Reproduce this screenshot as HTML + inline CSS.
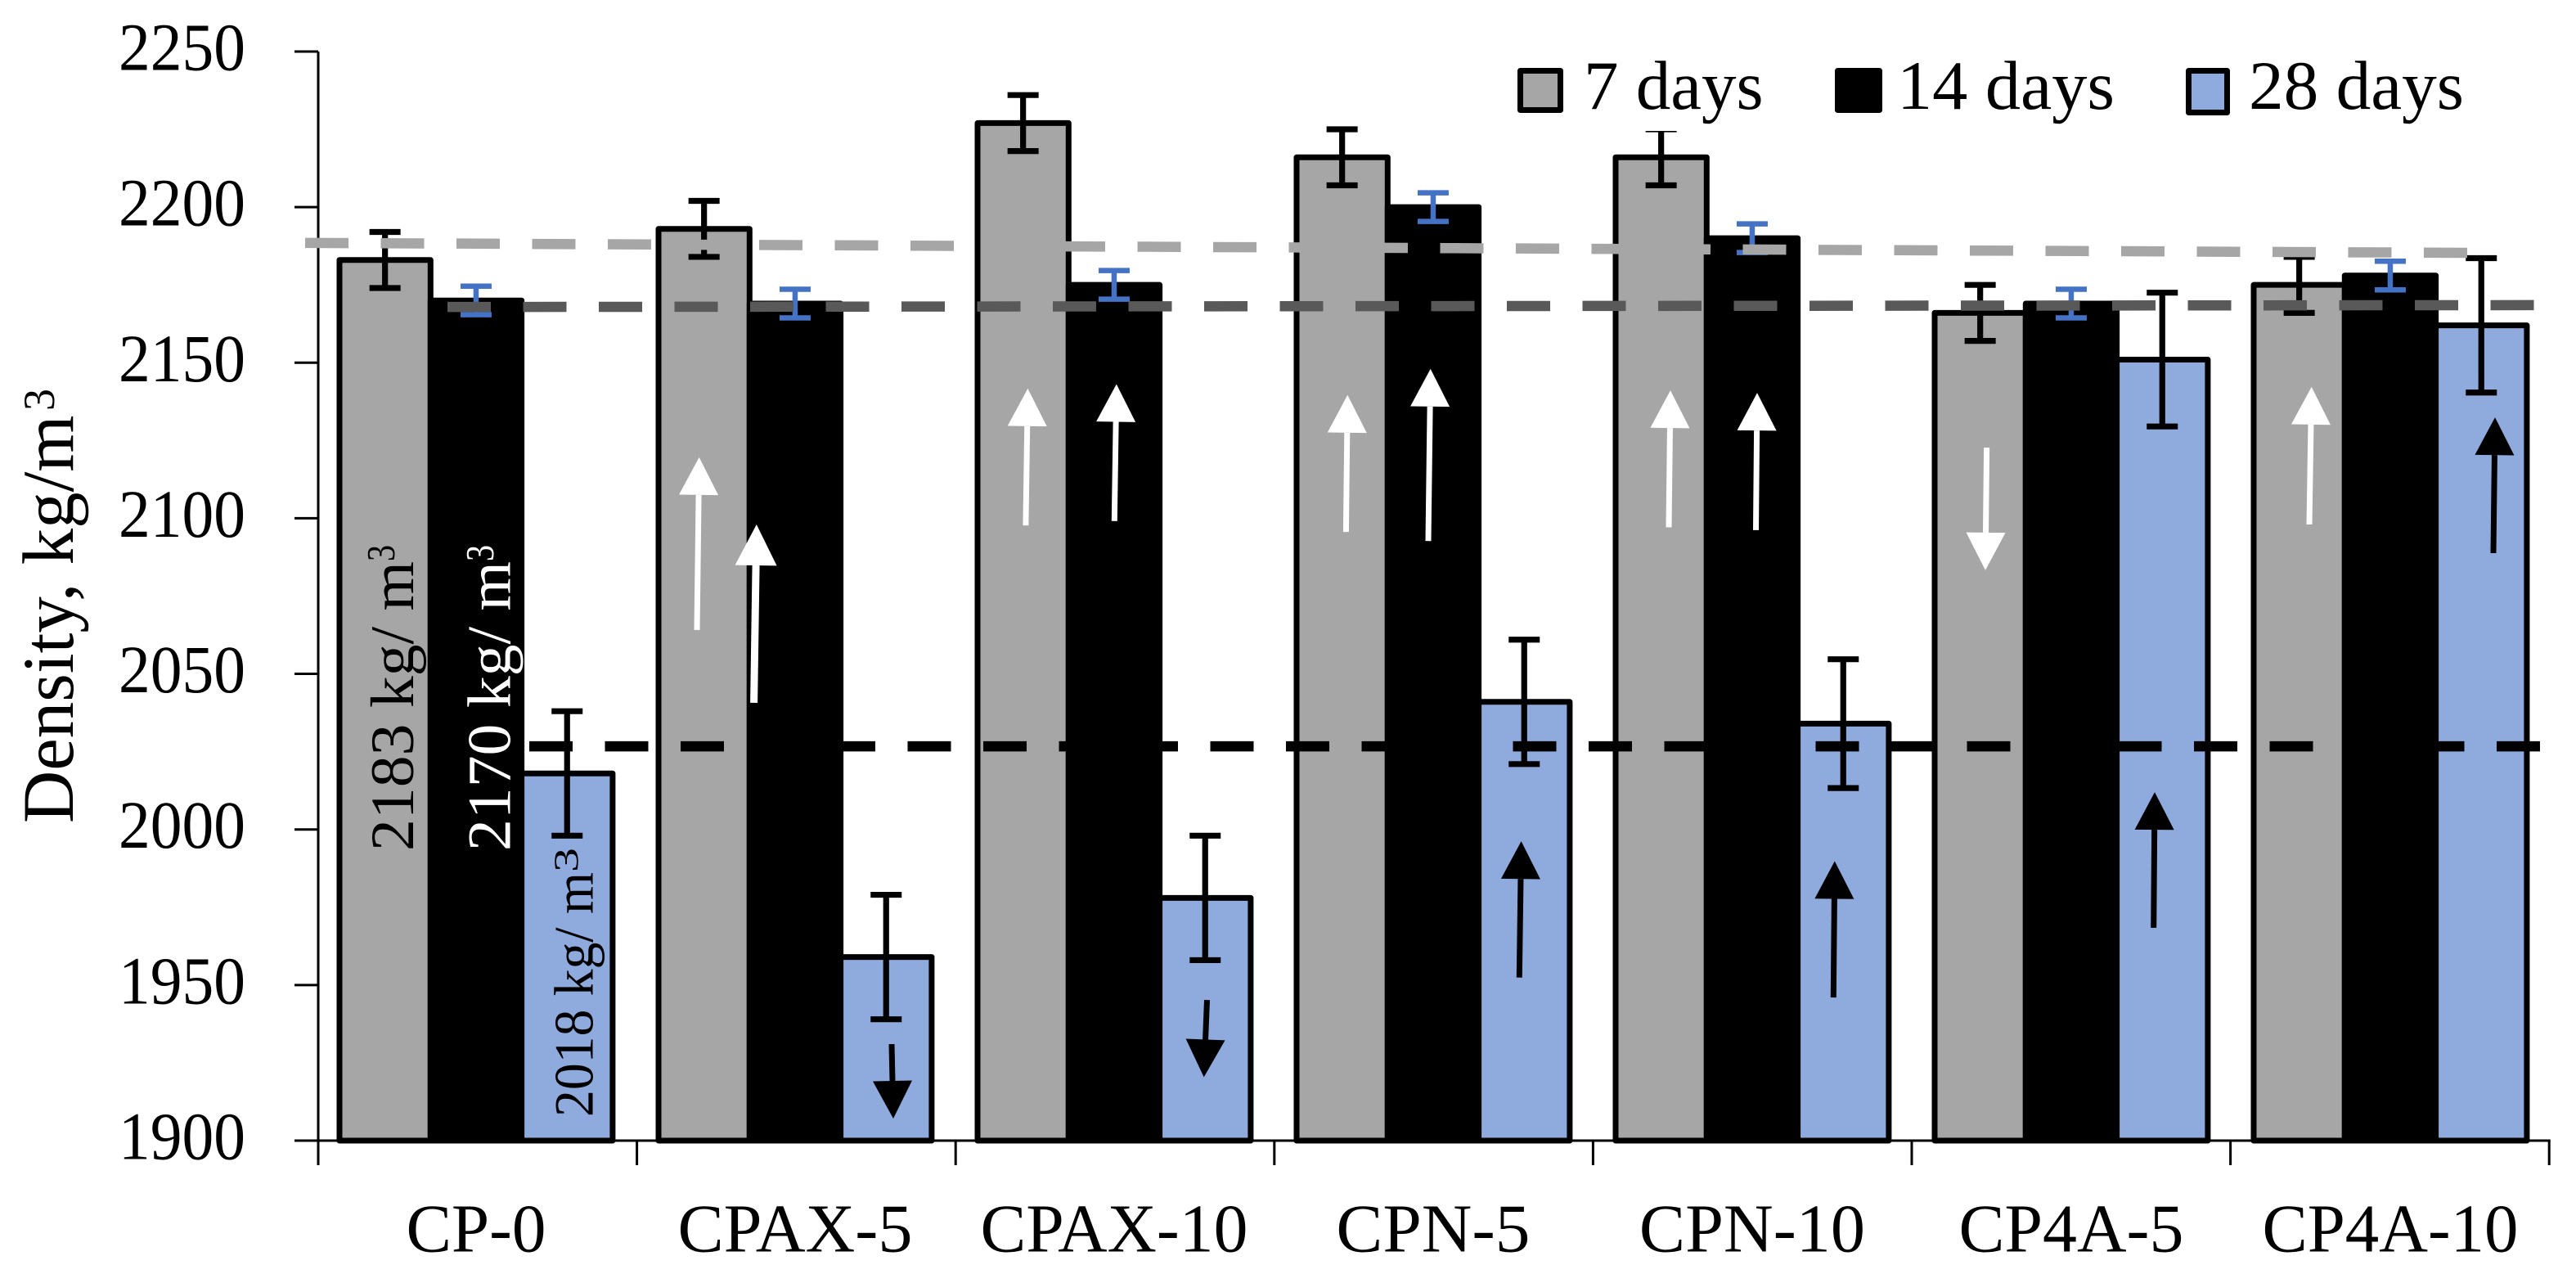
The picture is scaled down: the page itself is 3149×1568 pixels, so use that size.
<!DOCTYPE html>
<html lang="en">
<head>
<meta charset="utf-8">
<title>Density chart</title>
<style>
html,body{margin:0;padding:0;background:#fff;}
svg{display:block;font-family:"Liberation Serif",serif;}
</style>
</head>
<body>
<svg id="chart" xmlns="http://www.w3.org/2000/svg" width="3149" height="1568" viewBox="0 0 3149 1568">
  <rect x="0" y="0" width="3149" height="1568" fill="#fff"/>
  <g id="axes"></g>
  <g id="bars"></g>
  <g id="errors"></g>
  <g id="refs"></g>
  <g id="arrows"></g>
  <g id="notes"></g>
  <g id="legend">
    <rect x="1850" y="55" width="1170" height="105" fill="#fff"/>
    <g>
      <rect x="1858.5" y="86.5" width="49" height="48" fill="#a6a6a6" stroke="#000" stroke-width="7" stroke-linejoin="round"/>
      <text x="1936" y="133" font-size="85" fill="#000">7 days</text>
    </g>
    <g>
      <rect x="2246.5" y="86.5" width="51" height="48" fill="#000" stroke="#000" stroke-width="7" stroke-linejoin="round"/>
      <text x="2319" y="133" font-size="85" fill="#000" textLength="266" lengthAdjust="spacingAndGlyphs">14 days</text>
    </g>
    <g>
      <rect x="2675.5" y="86.5" width="47" height="51" fill="#8faadc" stroke="#000" stroke-width="7" stroke-linejoin="round"/>
      <text x="2749" y="133" font-size="85" fill="#000" textLength="263" lengthAdjust="spacingAndGlyphs">28 days</text>
    </g>
  </g>
  <text x="89" y="1006" font-size="89" fill="#000" transform="rotate(-90 89 1006)">Density, kg/m</text>
  <text x="66" y="502" font-size="54" fill="#000" transform="rotate(-90 66 502)">3</text>
</svg>
<script>
const categories = ['CP-0', 'CPAX-5', 'CPAX-10', 'CPN-5', 'CPN-10', 'CP4A-5', 'CP4A-10'];
const days7 = [2183, 2193, 2227, 2216, 2216, 2166, 2175];
const days14 = [2170, 2169, 2175, 2200, 2190, 2169, 2178];
const days28 = [2018, 1959, 1978, 2041, 2034, 2151, 2162];
const err7 = [9, 9, 9, 9, 9, 9, 9];
const err14 = [4.6, 4.6, 4.6, 4.6, 4.6, 4.6, 4.6];
const err28 = [20, 20, 20, 20, 20.7, 21.5, 21.6];
const yTicks = [1900, 1950, 2000, 2050, 2100, 2150, 2200, 2250];
const refStartValues = [2188.5, 2167.9, 2026.7];
const refEndValues = [2185.3, 2168.5, 2026.7];
const seriesNames = ['7-days', '14-days', '28-days'];
/* trend arrows: group, series, tail value, tip value */
const arrowGroups = [1, 1, 2, 2, 3, 3, 4, 4, 5, 6, 6, 4, 5, 1, 2, 3];
const arrowSeries = [0, 1, 0, 1, 0, 1, 0, 1, 0, 0, 2, 2, 2, 2, 2, 2];
const arrowTailValues = [2064.1, 2040.7, 2097.7, 2099.1, 2095.6, 2092.7, 2097.1, 2096.2, 2122.7, 2098, 2088.8, 1946, 1968.4, 1931, 1945.2, 1952.4];
const arrowTipValues = [2119.6, 2098, 2141.7, 2143.1, 2139.6, 2148, 2141.1, 2140.3, 2083.3, 2142.2, 2132.4, 1989.8, 2012, 1907.1, 1920.4, 1996.2];

/* layout and style */
const arrowTailDx = [-8.65, -50.35, 3.25, 0.35, 4.75, -5.95, 9.35, 4.55, 7.95, 12.35, 14.75, -11.95, -10.55, 6.75, 2.25, -5.95];
const arrowTipDx = [-6, -47.15, 5.75, 2.85, 6.65, -3.25, 11.35, 6.05, 6.35, 15.05, 16.75, -10.45, -9.25, 8.75, -1.55, -3.65];
const arrowColors = ['#fff', '#fff', '#fff', '#fff', '#fff', '#fff', '#fff', '#fff', '#fff', '#fff', '#000', '#000', '#000', '#000', '#000', '#000'];
const xLabelWidths = [171, 287, 327, 237, 276, 275, 313];
const seriesFill = ['#a6a6a6', '#000000', '#8faadc'];
const errColor = ['#000000', '#4472c4', '#000000'];
const refColors = ['#a6a6a6', '#595959', '#000000'];
const refFromX = [373, 547, 647];
const refToX = [3020, 3100, 3110];
const NS = 'http://www.w3.org/2000/svg';
const BAR_W = 111.3;

function yScale(v) { return 1394 - (v - 1900) * 3.803; }
function bandLeft(g) { return 415 + 390 * g; }
function barCenter(g, s) { return bandLeft(g) + BAR_W * s + BAR_W / 2; }
function xTick(i) { return 389 + 389.6 * i; }
function make(tag, parent, attrs) {
  const el = document.createElementNS(NS, tag);
  for (const k in attrs) el.setAttribute(k, attrs[k]);
  parent.appendChild(el);
  return el;
}
const axes = document.getElementById('axes');
const barsG = document.getElementById('bars');
const errG = document.getElementById('errors');
const refG = document.getElementById('refs');
const arrowG = document.getElementById('arrows');
const notesG = document.getElementById('notes');

/* axes */
const yAxisLine = make('line', axes, {x1: 389, x2: 389, y1: yScale(2250), y2: 1424, stroke: '#000', 'stroke-width': 3});


const xAxisLine = make('line', axes, {x1: 360, x2: xTick(7) + 1.5, y1: 1394, y2: 1394, stroke: '#000', 'stroke-width': 3});


yTicks.forEach(function (t) {
  const mark = make('line', axes, {x1: 360, x2: 389, y1: yScale(t), y2: yScale(t), stroke: '#000', 'stroke-width': 3});
  
  
  const label = make('text', axes, {x: 145, y: yScale(t) + 22.5, 'font-size': 83, fill: '#000', textLength: 155, lengthAdjust: 'spacingAndGlyphs'});
  label.textContent = String(t);
  
  
});
for (let i = 0; i <= categories.length; i++) {
  const mark = make('line', axes, {x1: xTick(i), x2: xTick(i), y1: 1394, y2: 1424, stroke: '#000', 'stroke-width': 3});
  
  
}
categories.forEach(function (c, g) {
  const label = make('text', axes, {x: barCenter(g, 1), y: 1529.5, 'font-size': 84, fill: '#000', 'text-anchor': 'middle', textLength: xLabelWidths[g], lengthAdjust: 'spacingAndGlyphs'});
  label.textContent = c;
  
  
});

/* bars and error bars */
const allSeries = [days7, days14, days28];
const allErrors = [err7, err14, err28];
allSeries.forEach(function (values, s) {
  values.forEach(function (v, g) {
    const top = yScale(v);
    const bar = make('rect', barsG, {x: bandLeft(g) + BAR_W * s, y: top, width: BAR_W, height: yScale(1900) - top, fill: seriesFill[s], stroke: '#000', 'stroke-width': 7, 'stroke-linejoin': 'round'});
    
    
  });
});
allSeries.forEach(function (values, s) {
  values.forEach(function (v, g) {
    const cx = barCenter(g, s);
    const hi = yScale(v + allErrors[s][g]);
    const lo = yScale(v - allErrors[s][g]);
    const path = make('path', errG, {d: 'M' + (cx - 19) + ' ' + hi + 'H' + (cx + 19) + 'M' + cx + ' ' + hi + 'V' + lo + 'M' + (cx - 19) + ' ' + lo + 'H' + (cx + 19), fill: 'none', stroke: errColor[s], 'stroke-width': s === 1 ? 6.5 : 7.2});
    
    
  });
});

/* dashed reference lines */
refStartValues.forEach(function (v, i) {
  const line = make('line', refG, {x1: refFromX[i], x2: refToX[i], y1: yScale(v), y2: yScale(refEndValues[i]), stroke: refColors[i], 'stroke-width': 12.5, 'stroke-dasharray': '53 39.5'});
  
  
});

/* arrows */
arrowGroups.forEach(function (g, i) {
  const s = arrowSeries[i];
  const c = barCenter(g, s);
  const tx = c + arrowTailDx[i], ty = yScale(arrowTailValues[i]);
  const px = c + arrowTipDx[i], py = yScale(arrowTipValues[i]);
  const dx = px - tx, dy = py - ty;
  const len = Math.sqrt(dx * dx + dy * dy);
  const ux = dx / len, uy = dy / len;
  const headLen = i === 1 ? 50 : 46;
  const headHalf = i === 1 ? 25.5 : 24;
  const bx = px - ux * headLen, by = py - uy * headLen;
  const shaft = make('line', arrowG, {x1: tx, y1: ty, x2: bx, y2: by, stroke: arrowColors[i], 'stroke-width': i === 1 ? 9 : 7});
  
  
  const head = make('polygon', arrowG, {points: px + ',' + py + ' ' + (bx - uy * headHalf) + ',' + (by + ux * headHalf) + ' ' + (bx + uy * headHalf) + ',' + (by - ux * headHalf), fill: arrowColors[i]});
  
  
});

/* rotated value notes on the CP-0 bars */
const noteMain = [
  {v: days7[0], x: 505, y: 1040, size: 75, len: 354, color: '#000', sx: 482, sy: 686, ss: 49, sl: 20},
  {v: days14[0], x: 623.5, y: 1040, size: 75, len: 354, color: '#fff', sx: 603, sy: 686, ss: 49, sl: 20},
  {v: days28[0], x: 724.5, y: 1365, size: 68, len: 299, color: '#000', sx: 706.6, sy: 1066, ss: 42, sl: 30}
];
noteMain.forEach(function (n, i) {
  const t = make('text', notesG, {x: n.x, y: n.y, 'font-size': n.size, fill: n.color, textLength: n.len, lengthAdjust: 'spacingAndGlyphs', transform: 'rotate(-90 ' + n.x + ' ' + n.y + ')'});
  t.textContent = n.v + ' kg/ m';
  
  
  const sup = make('text', notesG, {x: n.sx, y: n.sy, 'font-size': n.ss, fill: n.color, textLength: n.sl, lengthAdjust: 'spacingAndGlyphs', transform: 'rotate(-90 ' + n.sx + ' ' + n.sy + ')'});
  sup.textContent = '3';
  
  
});
</script>
</body>
</html>
